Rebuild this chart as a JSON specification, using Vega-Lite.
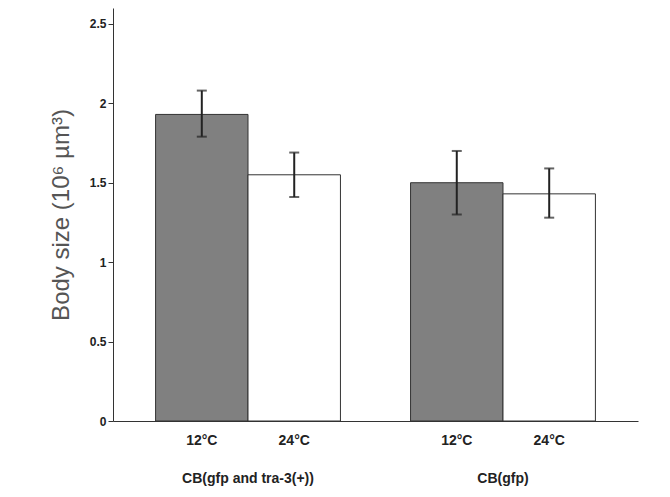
{
  "$schema": "https://vega.github.io/schema/vega-lite/v6.json",
  "width": 525,
  "height": 413,
  "autosize": "none",
  "padding": {"left": 113, "top": 8, "right": 32, "bottom": 76},
  "background": "white",
  "data": {
    "values": [
      {"group": "CB(gfp and tra-3(+))", "temp": "12°C", "size": 1.93, "lo": 1.79, "hi": 2.08},
      {"group": "CB(gfp and tra-3(+))", "temp": "24°C", "size": 1.55, "lo": 1.41, "hi": 1.69},
      {"group": "CB(gfp)", "temp": "12°C", "size": 1.50, "lo": 1.30, "hi": 1.70},
      {"group": "CB(gfp)", "temp": "24°C", "size": 1.43, "lo": 1.28, "hi": 1.59}
    ]
  },
  "config": {
    "view": {"stroke": null},
    "font": "Liberation Sans"
  },
  "encoding": {
    "x": {
      "field": "group", "type": "nominal", "sort": null,
      "scale": {"paddingInner": 0.275, "paddingOuter": 0.167},
      "axis": {"title": null, "ticks": false, "domainColor": "#333", "labelPadding": 50,
        "labelFontSize": 14, "labelFontWeight": "bold", "labelColor": "#222", "labelAngle": 0}
    },
    "xOffset": {"field": "temp", "type": "nominal"}
  },
  "layer": [
    {
      "mark": {"type": "bar", "stroke": "#333", "strokeWidth": 1},
      "encoding": {
        "y": {"field": "size", "type": "quantitative",
          "scale": {"domain": [0, 2.5]},
          "axis": {"values": [0, 0.5, 1, 1.5, 2, 2.5], "format": "~g", "grid": false,
            "title": "Body size (10⁶ µm³)", "titleFontSize": 24, "titleFontWeight": "normal",
            "titleColor": "#555", "titlePadding": 16, "labelFontSize": 12, "labelFontWeight": "bold",
            "labelColor": "#222", "domainColor": "#333", "tickColor": "#333"}},
        "fill": {"field": "temp", "type": "nominal", "legend": null,
          "scale": {"domain": ["12°C", "24°C"], "range": ["#808080", "#ffffff"]}}
      }
    },
    {
      "mark": {"type": "rule", "color": "#222", "strokeWidth": 2},
      "encoding": {"y": {"field": "lo", "type": "quantitative"}, "y2": {"field": "hi"}}
    },
    {
      "mark": {"type": "tick", "color": "#222", "thickness": 2, "size": 10},
      "encoding": {"y": {"field": "lo", "type": "quantitative"}}
    },
    {
      "mark": {"type": "tick", "color": "#222", "thickness": 2, "size": 10},
      "encoding": {"y": {"field": "hi", "type": "quantitative"}}
    },
    {
      "mark": {"type": "text", "dy": 20, "fontSize": 14, "fontWeight": "bold", "color": "#222"},
      "encoding": {"y": {"datum": 0}, "text": {"field": "temp"}}
    }
  ]
}
